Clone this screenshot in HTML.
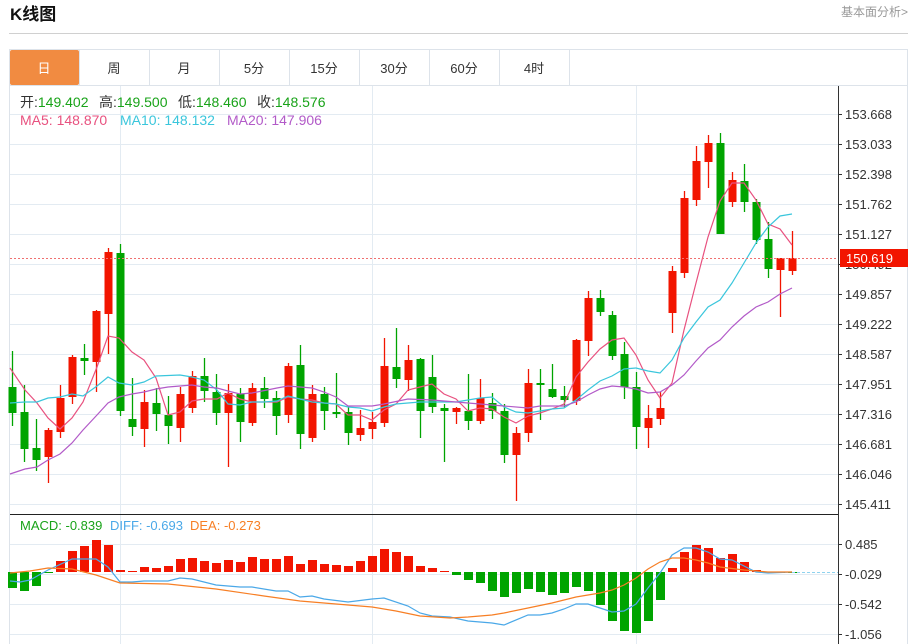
<!DOCTYPE html>
<html><head><meta charset="utf-8"><style>
body{margin:0;background:#fff;width:914px;height:644px;overflow:hidden;font-family:"Liberation Sans","Noto Sans CJK SC",sans-serif}
svg{position:absolute;left:0;top:0}
</style></head><body>
<svg id="s" width="914" height="644" xmlns="http://www.w3.org/2000/svg" font-family="Liberation Sans, Noto Sans CJK SC, sans-serif">
<text x="10" y="20" font-size="17" font-weight="bold" fill="#111">K线图</text>
<text x="908" y="16" font-size="12" fill="#999" text-anchor="end">基本面分析&gt;</text>
<line x1="9" y1="33.5" x2="908" y2="33.5" stroke="#d0d0d0"/>
<rect x="9.5" y="49.5" width="898" height="36" fill="#fff" stroke="#dde3ea"/>
<rect x="10" y="50" width="69" height="35" fill="#f18b41" rx="2"/>
<g stroke="#dde3ea"><line x1="79.5" y1="50" x2="79.5" y2="85"/><line x1="149.5" y1="50" x2="149.5" y2="85"/><line x1="219.5" y1="50" x2="219.5" y2="85"/><line x1="289.5" y1="50" x2="289.5" y2="85"/><line x1="359.5" y1="50" x2="359.5" y2="85"/><line x1="429.5" y1="50" x2="429.5" y2="85"/><line x1="499.5" y1="50" x2="499.5" y2="85"/><line x1="569.5" y1="50" x2="569.5" y2="85"/></g>
<g font-size="13" text-anchor="middle" fill="#333"><text x="44" y="73" fill="#fff">日</text><text x="114" y="73">周</text><text x="184" y="73">月</text><text x="254" y="73">5分</text><text x="324" y="73">15分</text><text x="394" y="73">30分</text><text x="464" y="73">60分</text><text x="534" y="73">4时</text></g>
<rect x="9.5" y="85.5" width="898" height="570" fill="none" stroke="#dde3ea"/>
<g id="grid" stroke="#e3ebf2"></g>
<line x1="838.5" y1="86" x2="838.5" y2="644" stroke="#333"/>
<line x1="10" y1="514.5" x2="838" y2="514.5" stroke="#222"/>
<g id="plot"></g>
<g font-size="14">
<text x="20" y="107" fill="#333">开:<tspan fill="#19a319">149.402</tspan></text>
<text x="99" y="107" fill="#333">高:<tspan fill="#19a319">149.500</tspan></text>
<text x="178" y="107" fill="#333">低:<tspan fill="#19a319">148.460</tspan></text>
<text x="257" y="107" fill="#333">收:<tspan fill="#19a319">148.576</tspan></text>
<text x="20" y="125" fill="#e8517f">MA5: 148.870</text>
<text x="120" y="125" fill="#3ac6dc">MA10: 148.132</text>
<text x="227" y="125" fill="#b25ac8">MA20: 147.906</text>
</g>
<g font-size="13">
<text x="20" y="530" fill="#19a319">MACD: -0.839</text>
<text x="110" y="530" fill="#4aa8e8">DIFF: -0.693</text>
<text x="190" y="530" fill="#f77f25">DEA: -0.273</text>
</g>
<g id="axis" font-size="13" fill="#333"></g>
</svg>
<script>
var NS="http://www.w3.org/2000/svg";
function el(p,t,a,txt){var e=document.createElementNS(NS,t);for(var k in a)e.setAttribute(k,a[k]);if(txt!=null)e.textContent=txt;document.getElementById(p).appendChild(e);return e;}
var py=[114,144,174,204,234,264,294,324,354,384,414,444,474,504],pl=["153.668","153.033","152.398","151.762","151.127","150.492","149.857","149.222","148.587","147.951","147.316","146.681","146.046","145.411"];
py.forEach(function(y,i){el("grid","line",{x1:10,y1:y+.5,x2:838,y2:y+.5});el("axis","line",{x1:838,y1:y+.5,x2:842,y2:y+.5,stroke:"#333"});el("axis","text",{x:845,y:y+5},pl[i]);});
[544,574,604,634].forEach(function(y,i){el("grid","line",{x1:10,y1:y+.5,x2:838,y2:y+.5});el("axis","line",{x1:838,y1:y+.5,x2:842,y2:y+.5,stroke:"#333"});el("axis","text",{x:845,y:y+5},["0.485","-0.029","-0.542","-1.056"][i]);});
[120,372,636].forEach(function(x){el("grid","line",{x1:x+.5,y1:86,x2:x+.5,y2:644});});
var C=[["g",387,413,351,426],["g",412,449,385,462],["g",448,460,419,471],["r",430,457,428,483],["r",398,432,385,438],["r",357,397,355,404],["g",358,361,344,375],["r",311,362,310,392],["r",252,314,248,354],["g",253,411,244,416],
["g",419,427,378,436],["r",402,429,390,447],["g",403,414,388,431],["g",415,426,396,444],["r",394,428,387,442],["r",376,408,371,413],["g",376,391,358,402],["g",392,413,374,425],["r",393,413,384,467],["g",394,422,388,442],
["r",388,423,383,426],["g",388,399,377,408],["g",398,416,391,435],["r",366,415,363,423],["g",365,434,345,449],["r",394,438,385,442],["g",394,411,387,430],["g",412,413,373,418],["g",412,433,407,445],["r",428,435,410,441],
["r",422,429,412,439],["r",366,423,338,427],["g",367,379,328,388],["r",360,380,345,391],["g",359,411,358,438],["g",377,407,355,413],["g",408,411,404,462],["r",408,412,407,424],["g",411,421,374,430],["r",398,421,379,424],
["g",403,411,393,419],["g",411,455,404,463],["r",433,455,427,501],["r",383,433,369,442],["g",383,385,369,420],["g",389,397,364,398],["g",396,400,386,408],["r",340,401,339,405],["r",298,341,291,356],["g",298,312,290,316],
["g",315,356,311,360],["g",354,387,342,399],["g",387,427,372,449],["r",418,428,405,448],["r",408,419,392,425],["r",271,313,266,333],["r",198,273,191,278],["r",161,200,146,206],["r",143,162,135,188],["g",143,234,133,234],
["r",180,202,172,207],["g",181,202,164,212],["g",202,240,199,244],["g",239,269,222,278],["r",258,270,258,317],["r",258,271,231,275]];
C.forEach(function(c,i){var x=12.5+12*i,col=c[0]=="r"?"#f21500":"#00a400";
el("plot","line",{x1:x,y1:c[3],x2:x,y2:c[4],stroke:col,"stroke-width":1.3});
el("plot","rect",{x:x-4,y:c[1],width:8,height:Math.max(2,c[2]-c[1]),fill:col});});
var M=[588,591,586,573,561,551,546,540,545,570,571,567,568,566,559,558,561,563,560,562,557,559,559,556,564,560,564,565,566,561,556,549,552,556,566,568,571,575,580,583,591,597,593,589,592,595,593,587,591,605,621,631,633,621,600,568,552,545,548,558,554,562,570,573,573,572];
var z=572;M.forEach(function(v,i){var x=12.5+12*i,col=v<z?"#f21500":"#00a400";el("plot","rect",{x:x-4.5,y:Math.min(v,z),width:9,height:Math.max(1,Math.abs(v-z)),fill:col});});
function pl2(pts,col,w){el("plot","polyline",{points:pts,fill:"none",stroke:col,"stroke-width":w||1.2});}
pl2("10,368 25,390 37,403 48,418 60,429 72,418 83,402 97,367 108,336 119,338 132,352 144,360 156,378 168,415 180,412 192,401 204,399 217,399 228,393 240,399 252,402 264,402 277,402 288,397 300,399 312,400 324,403 336,404 348,415 360,415 372,420 384,410 396,404 408,390 420,387 432,384 444,394 456,399 468,411 480,408 492,409 504,417 516,423 528,416 540,413 552,409 564,404 576,377 588,362 600,349 612,340 624,338 636,355 648,380 660,398 672,383 684,330 696,283 708,237 720,201 732,183 744,183 756,200 768,224 780,229 792,245","#e8517f");
pl2("10,403 25,402 37,402 48,398 60,397 72,394 83,396 97,386 108,377 119,383 132,385 144,382 156,376 180,375 192,377 204,380 217,390 228,404 240,405 252,402 264,402 277,401 288,396 300,399 312,402 324,403 336,404 348,407 360,408 372,411 384,407 396,404 408,403 420,402 432,402 444,402 456,402 468,400 480,398 492,397 504,407 516,412 528,413 540,411 552,409 564,408 576,400 588,390 600,381 612,376 624,369 636,368 648,371 660,373 672,360 684,338 696,322 708,307 720,300 732,283 744,263 756,243 768,227 780,216 792,214","#3ac6dc");
pl2("10,474 25,469 37,467 48,460 60,454 72,443 83,430 97,415 108,403 119,397 132,394 144,392 156,389 168,387 192,385 204,387 217,388 228,391 240,394 252,393 277,388 288,386 300,387 312,388 324,392 336,397 348,406 372,406 384,404 408,399 432,400 456,402 480,404 504,406 528,408 540,406 564,406 576,402 588,395 600,389 612,386 624,387 636,389 648,393 660,392 672,385 684,375 696,361 708,348 720,340 732,327 744,316 756,307 768,302 780,294 792,288","#b25ac8");
pl2("10,581 20,582 30,580 48,570 72,559 96,559 108,567 120,582 132,582 144,581 168,581 180,578 192,579 216,585 240,587 252,587 276,591 288,591 300,597 312,596 324,599 348,602 372,599 384,598 408,606 420,613 432,616 450,617 468,621 492,623 504,625 528,615 540,615 552,613 564,609 576,604 588,604 600,608 612,612 624,611 636,604 648,588 660,573 672,555 684,548 696,548 708,552 720,559 732,560 744,566 756,572 768,573 792,572","#4aa8e8");
pl2("10,573 30,571 48,568 72,569 84,572 96,575 120,583 168,584 216,589 264,596 300,601 348,605 372,607 396,611 420,616 450,618 468,617 492,615 504,613 528,608 552,603 576,597 600,593 612,590 624,585 636,578 648,569 660,562 672,558 684,558 696,560 708,563 720,567 744,570 768,572 792,572","#f77f25");
el("plot","line",{x1:792,y1:572.5,x2:838,y2:572.5,stroke:"#8fd3ef","stroke-dasharray":"3,2"});
el("plot","line",{x1:10,y1:258.5,x2:838,y2:258.5,stroke:"#f07070","stroke-dasharray":"2,2"});
el("axis","rect",{x:840,y:249,width:68,height:18,fill:"#f21500"});
el("axis","text",{x:846,y:263,fill:"#fff"},"150.619");
</script>
</body></html>
